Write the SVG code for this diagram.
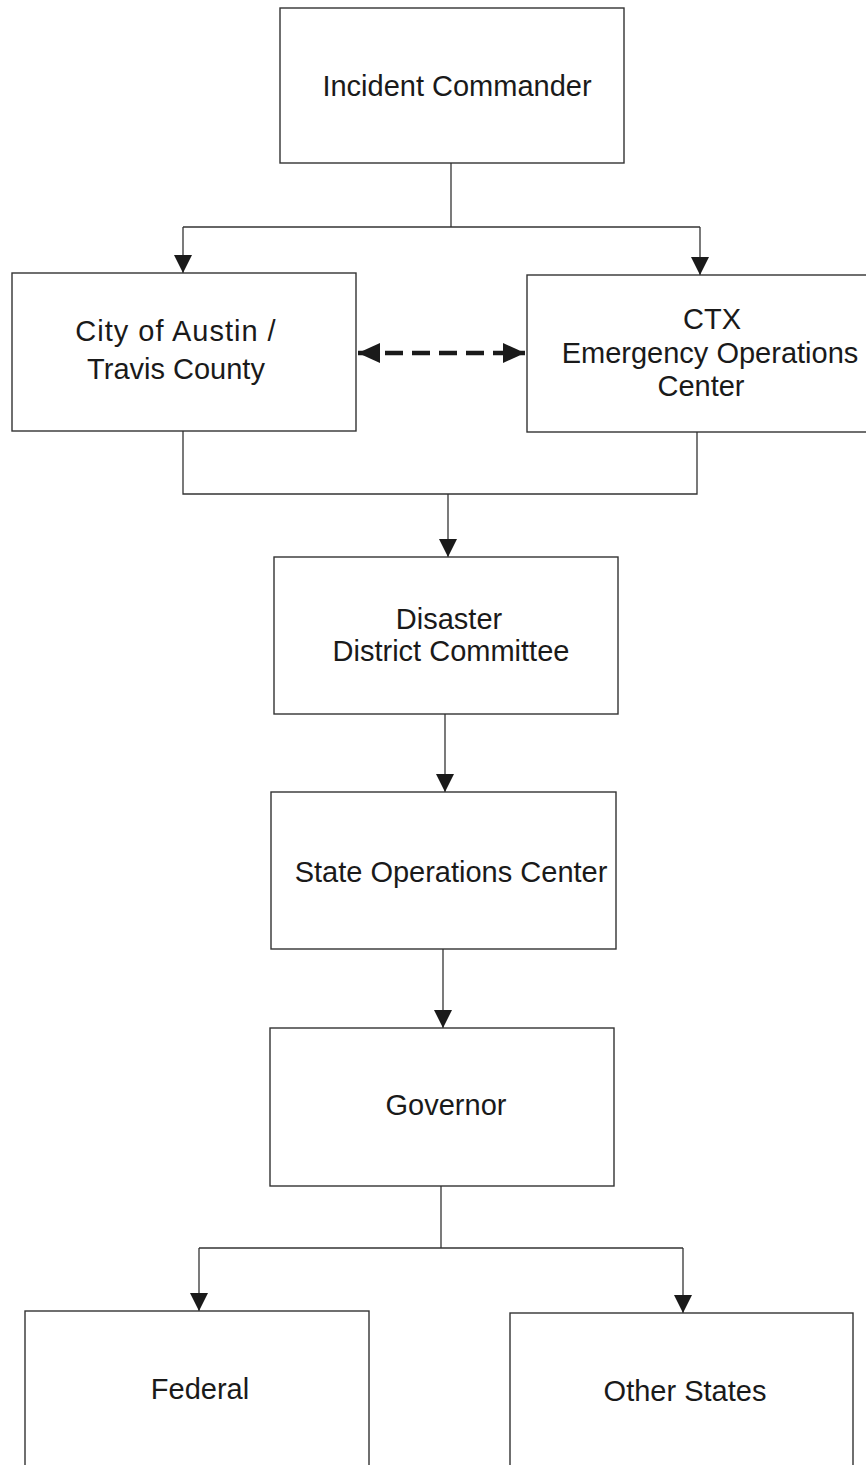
<svg xmlns="http://www.w3.org/2000/svg" width="866" height="1465" viewBox="0 0 866 1465">
<defs>
<style>
.box{fill:#fff;stroke:#333;stroke-width:1.4}
.lbl{font-family:"Liberation Sans",Arial,sans-serif;font-size:29px;fill:#1a1a1a;text-anchor:middle}
.ln{fill:none;stroke:#333;stroke-width:1.3}
.dash{fill:none;stroke:#1a1a1a;stroke-width:4.5;stroke-dasharray:18 9}
</style>
<marker id="arr" markerUnits="userSpaceOnUse" markerWidth="18" markerHeight="18" viewBox="0 0 18 18" refX="18" refY="9" orient="auto">
<path d="M0,0 L18,9 L0,18 Z" fill="#1a1a1a"/>
</marker>
<marker id="arr2" markerUnits="userSpaceOnUse" markerWidth="22" markerHeight="20" viewBox="0 0 22 20" refX="22" refY="10" orient="auto-start-reverse">
<path d="M0,0 L22,10 L0,20 Z" fill="#1a1a1a"/>
</marker>
</defs>
<rect width="866" height="1465" fill="#fff"/>
<g id="connectors">
<path class="ln" d="M451,163 V227"/>
<path class="ln" d="M183,227 H700"/>
<path class="ln" d="M183,227 V273" marker-end="url(#arr)"/>
<path class="ln" d="M700,227 V275" marker-end="url(#arr)"/>
<path class="dash" d="M358,353 H525" marker-start="url(#arr2)" marker-end="url(#arr2)"/>
<path class="ln" d="M183,431 V494 H697 V432"/>
<path class="ln" d="M448,494 V557" marker-end="url(#arr)"/>
<path class="ln" d="M445,714 V792" marker-end="url(#arr)"/>
<path class="ln" d="M443,949 V1028" marker-end="url(#arr)"/>
<path class="ln" d="M441,1186 V1248"/>
<path class="ln" d="M199,1248 H683"/>
<path class="ln" d="M199,1248 V1311" marker-end="url(#arr)"/>
<path class="ln" d="M683,1248 V1313" marker-end="url(#arr)"/>
</g>
<g id="incident-commander">
<rect class="box" x="280" y="8" width="344" height="155"/>
<text class="lbl" x="457" y="96">Incident Commander</text>
</g>
<g id="city-austin">
<rect class="box" x="12" y="273" width="344" height="158"/>
<text class="lbl" x="176" y="341" letter-spacing="1">City of Austin /</text>
<text class="lbl" x="176" y="379">Travis County</text>
</g>
<g id="ctx-eoc">
<rect class="box" x="527" y="275" width="345" height="157"/>
<text class="lbl" x="712" y="329">CTX</text>
<text class="lbl" x="710" y="363">Emergency Operations</text>
<text class="lbl" x="701" y="396">Center</text>
</g>
<g id="ddc">
<rect class="box" x="274" y="557" width="344" height="157"/>
<text class="lbl" x="449" y="629">Disaster</text>
<text class="lbl" x="451" y="661">District Committee</text>
</g>
<g id="soc">
<rect class="box" x="271" y="792" width="345" height="157"/>
<text class="lbl" x="451" y="882">State Operations Center</text>
</g>
<g id="governor">
<rect class="box" x="270" y="1028" width="344" height="158"/>
<text class="lbl" x="446" y="1115">Governor</text>
</g>
<g id="federal">
<rect class="box" x="25" y="1311" width="344" height="170"/>
<text class="lbl" x="200" y="1399">Federal</text>
</g>
<g id="other-states">
<rect class="box" x="510" y="1313" width="343" height="170"/>
<text class="lbl" x="685" y="1401">Other States</text>
</g>
</svg>
